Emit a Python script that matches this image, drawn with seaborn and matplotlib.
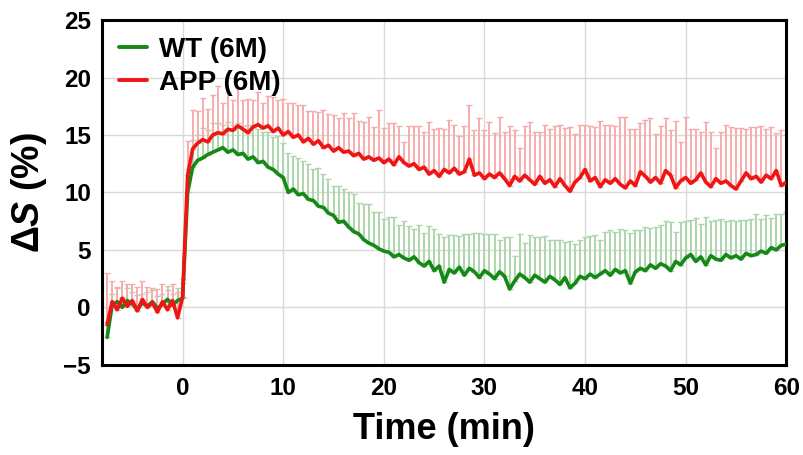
import numpy as np
import pandas as pd
import matplotlib
matplotlib.use('Agg')
import matplotlib.pyplot as plt
import seaborn as sns
from matplotlib.ticker import MultipleLocator

# time grid (min), sampled every 0.5 min
time_min = np.arange(-7.5, 60.01, 0.5)

wt_mean = [
    -2.6, 0.2, 0.5, 0.0, 0.6, 0.3, -0.2, 0.4, 0.1, 0.5,
    -0.1, 0.3, 0.7, 0.2, 0.6, 0.8,
    10.0, 12.2, 12.8, 13.0, 13.3, 13.5, 13.7, 13.9, 13.5, 13.7,
    13.3, 13.4, 12.9, 13.1, 12.6, 12.7, 12.2, 12.0, 11.6, 11.3,
    10.0, 10.3, 9.8, 9.9, 9.4, 9.3, 8.8, 8.7, 8.2, 8.0,
    7.4, 7.5, 7.0, 6.6, 6.4, 5.9, 5.6, 5.4, 5.1, 4.9,
    4.8, 4.4, 4.6, 4.3, 4.1, 4.4, 3.9, 3.6, 4.0, 3.2,
    3.6, 2.2, 3.3, 3.0, 3.5, 2.8, 3.4, 3.1, 2.6, 3.2,
    2.9, 2.5, 3.1, 2.7, 1.6, 2.3, 2.9, 2.6, 2.2, 2.8,
    2.5, 2.2, 2.7, 2.4, 2.0, 2.6, 1.7, 2.1, 2.7, 2.5,
    2.9, 2.6, 2.9, 3.2, 2.8, 3.3, 3.0, 3.2, 2.1, 3.1,
    3.4, 3.2, 3.7, 3.4, 3.8, 3.6, 3.2, 4.0, 3.7, 4.3,
    4.6, 4.0, 4.4, 3.7, 4.5, 4.2, 4.1, 4.6, 4.3, 4.5,
    4.2, 4.7, 4.5, 4.6, 4.9, 4.7, 5.2, 5.0, 5.4, 5.5,
]

wt_sd = [
    1.3, 1.0, 1.2, 0.9, 1.1, 1.0, 1.3, 0.8, 1.2, 1.0,
    1.1, 0.9, 1.2, 1.0, 1.1, 1.3,
    2.0, 2.4, 2.2, 2.6, 2.1, 2.5, 2.3, 2.0, 2.6, 2.2,
    2.7, 2.4, 3.0, 2.5, 2.9, 2.6, 3.1, 2.8, 3.3, 3.0,
    3.4, 2.9, 3.2, 2.8, 3.1, 2.7, 3.3, 2.9, 3.0, 2.6,
    3.2, 2.8, 3.0, 3.3, 2.7, 3.1, 3.4, 2.9, 3.2, 2.8,
    3.1, 3.5, 2.6, 3.2, 3.0, 2.4, 3.3, 2.9, 3.1, 3.6,
    2.8, 3.9, 3.0, 3.3, 2.7, 3.6, 3.0, 3.4, 3.9, 3.2,
    3.5, 3.9, 2.8, 3.4, 4.5, 2.2, 3.5, 3.0, 4.1, 3.3,
    3.6, 4.0, 3.2, 3.5, 3.9, 3.1, 4.1, 3.4, 3.2, 3.6,
    3.3, 3.7, 3.0, 3.4, 3.9, 3.3, 3.8, 3.5, 4.4, 3.6,
    3.3, 3.8, 3.2, 3.6, 3.4, 3.9, 4.2, 2.6, 3.7, 3.2,
    3.0, 3.8, 2.9, 4.2, 3.0, 3.4, 3.6, 2.9, 3.3, 3.0,
    3.4, 2.9, 3.2, 3.5, 2.8, 3.3, 2.6, 3.1, 2.7, 2.8,
]

app_mean = [
    -1.5, 0.5, -0.2, 0.8, 0.1, 0.6, -0.3, 0.7, 0.0, 0.4,
    -0.4, 0.5, -0.2, 0.6, -0.9, 0.9,
    11.5, 13.8, 14.3, 14.6, 14.4, 15.0, 15.2, 15.1, 15.5, 15.4,
    15.8, 15.5, 15.2, 15.7, 15.9, 15.6, 15.8, 15.3, 15.6, 15.0,
    15.3, 14.8, 15.0, 14.4, 14.7, 14.2, 14.5, 13.9, 14.1, 13.6,
    13.9, 13.5, 13.6, 13.2, 13.4, 12.9, 13.1, 12.8, 13.0, 12.6,
    12.9, 12.4, 13.1, 12.6, 12.3, 12.5, 12.0, 12.2, 11.6, 11.9,
    11.4, 12.0, 11.7, 12.1, 11.6, 11.8, 12.9, 11.5, 11.7, 11.2,
    11.6, 11.3, 11.7, 11.2, 10.6, 11.4, 11.0, 11.5, 11.1, 10.7,
    11.4, 10.8, 11.1, 10.5, 11.2, 10.6, 10.1, 10.9, 11.3, 12.0,
    11.0, 11.3, 10.5, 11.1, 10.8, 11.2, 10.7, 10.4, 11.0, 10.6,
    11.8, 11.4, 10.9, 11.3, 10.8, 11.9, 11.5, 10.4, 11.0, 11.3,
    10.8, 11.1, 11.7, 10.9, 10.5, 11.2, 10.8, 11.0, 10.6, 10.3,
    11.0, 11.7, 11.2, 11.4, 10.9, 11.5, 11.2, 11.9, 10.6, 10.9,
]

app_sd = [
    4.5, 1.8, 2.0, 1.5, 1.9, 1.4, 2.1, 1.6, 1.8, 1.3,
    2.0, 1.5, 1.7, 1.4, 2.2, 1.6,
    3.0, 3.4, 2.8, 3.6, 2.9, 3.5, 4.1, 2.7, 3.2, 2.6,
    3.3, 2.5, 2.9, 2.3, 2.8, 2.2, 2.6, 3.0, 2.4, 3.1,
    2.5, 3.0, 2.6, 3.2, 2.4, 2.9, 2.5, 3.3, 2.7, 3.1,
    2.6, 3.4, 2.9, 3.7, 2.8, 3.2, 3.5, 2.9, 4.2, 3.0,
    3.1, 3.6, 2.7, 1.8, 3.5, 3.3, 3.8, 3.1, 4.5, 3.6,
    4.2, 3.5, 4.6, 3.8, 3.3, 4.0, 4.7, 3.9, 4.8, 4.2,
    4.5, 3.9, 4.9, 4.1, 5.2, 4.0, 2.9, 4.3, 5.0, 4.6,
    3.9, 5.1, 4.4, 5.3, 4.7, 5.0, 5.6, 4.2, 4.6, 3.9,
    4.8, 4.4, 5.7, 4.8, 5.1, 4.6, 5.9, 6.2, 4.5, 4.9,
    4.2, 4.9, 5.6, 3.8, 5.0, 4.6, 3.9, 5.8, 3.4, 5.3,
    4.7, 4.4, 3.6, 5.2, 4.8, 2.7, 4.5, 4.9, 5.1, 5.3,
    4.6, 3.8, 4.5, 4.3, 4.9, 4.0, 4.5, 3.3, 4.8, 4.1,
]

df = pd.concat([
    pd.DataFrame({'time': time_min, 'dS': wt_mean, 'sd': wt_sd, 'group': 'WT (6M)'}),
    pd.DataFrame({'time': time_min, 'dS': app_mean, 'sd': app_sd, 'group': 'APP (6M)'}),
])

sns.set_style('white')
plt.rcParams['font.family'] = ['Liberation Sans', 'DejaVu Sans']
plt.rcParams['font.weight'] = 'bold'
plt.rcParams['text.color'] = 'black'
plt.rcParams['axes.labelcolor'] = 'black'
plt.rcParams['xtick.color'] = 'black'
plt.rcParams['ytick.color'] = 'black'
plt.rcParams['mathtext.fontset'] = 'custom'
plt.rcParams['mathtext.rm'] = 'Liberation Sans:bold'
plt.rcParams['mathtext.it'] = 'Liberation Sans:italic:bold'
plt.rcParams['mathtext.bf'] = 'Liberation Sans:bold'

line_colors = {'WT (6M)': '#168816', 'APP (6M)': '#f01414'}
bar_colors = {'WT (6M)': '#acd6ac', 'APP (6M)': '#f6acac'}

fig = plt.figure(figsize=(8.04, 4.55), dpi=100)
ax = fig.add_axes([0.127, 0.198, 0.851, 0.758])

# upward-only error bars underneath the means
for grp in ['WT (6M)', 'APP (6M)']:
    sub = df[df['group'] == grp]
    ax.errorbar(sub['time'], sub['dS'],
                yerr=[np.zeros(len(sub)), sub['sd']],
                fmt='none', ecolor=bar_colors[grp], elinewidth=1.4,
                capsize=2.5, capthick=1.0, zorder=2)

sns.lineplot(data=df, x='time', y='dS', hue='group',
             palette=line_colors, linewidth=2.6, ax=ax, zorder=3,
             estimator=None, sort=False)

ax.set_xlim(-8, 60)
ax.set_ylim(-5, 25)
ax.xaxis.set_major_locator(MultipleLocator(10))
ax.xaxis.set_minor_locator(MultipleLocator(5))
ax.set_yticks([-5, 0, 5, 10, 15, 20, 25])
ax.set_yticklabels(['\u22125', '0', '5', '10', '15', '20', '25'])

ax.grid(True, which='major', color='#d9d9d9', linewidth=1.0)
ax.set_axisbelow(True)

for side in ['left', 'right', 'top', 'bottom']:
    ax.spines[side].set_visible(True)
    ax.spines[side].set_linewidth(2.2)
    ax.spines[side].set_color('black')

ax.tick_params(axis='both', which='major', direction='out', length=6, width=2,
               labelsize=17.5, colors='black', pad=2)
ax.tick_params(axis='x', which='minor', direction='out', length=4, width=2)
ax.tick_params(axis='x', which='major', length=7)
ax.tick_params(axis='y', which='minor', left=False)

ax.set_xlabel('Time (min)', fontsize=26, fontweight='bold', labelpad=8)
ax.set_ylabel('\u0394$\\mathit{S}$ (%)', fontsize=27, fontweight='bold', labelpad=10)

leg = ax.legend(loc='upper left', frameon=False, fontsize=20, handlelength=1.0,
                handletextpad=0.45, labelspacing=0.25, borderaxespad=0.3,
                borderpad=0.3)
for h in leg.get_lines():
    h.set_linewidth(2.8)

plt.savefig('out.png', dpi=100)
